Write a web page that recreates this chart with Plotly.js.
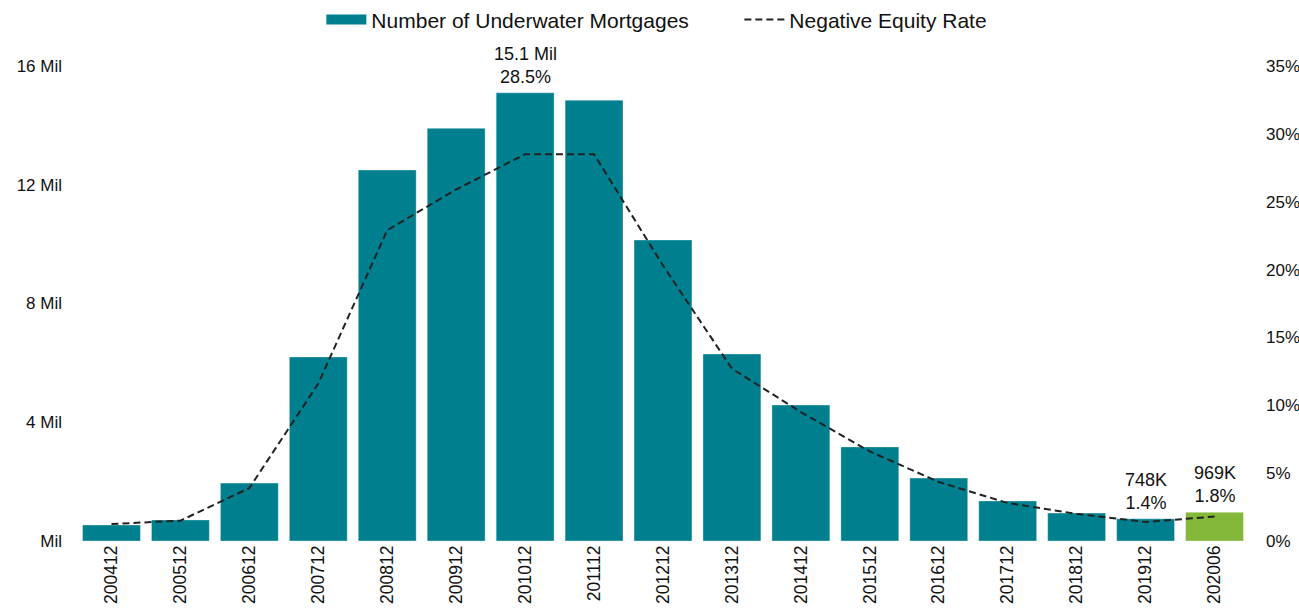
<!DOCTYPE html>
<html>
<head>
<meta charset="utf-8">
<script src="https://cdn.plot.ly/plotly-3.0.1.min.js"></script>
<style>html,body{margin:0;padding:0;background:#fff;}#chart{width:1299px;height:615px;}</style>
</head>
<body>
<div id="chart"></div>
<script>
const periods = ["200412","200512","200612","200712","200812","200912","201012","201112","201212","201312","201412","201512","201612","201712","201812","201912","202006"];
const underwaterMil = [0.54,0.71,1.95,6.2,12.5,13.9,15.1,14.85,10.14,6.3,4.58,3.17,2.12,1.35,0.94,0.748,0.969];
const negEquityRate = [1.25,1.5,3.9,11.6,22.9,25.9,28.5,28.5,20.3,12.7,9.5,6.6,4.35,2.8,2.0,1.4,1.8];
const leftTickVals = [0,4,8,12,16];
const leftTickText = ["Mil","4 Mil","8 Mil","12 Mil","16 Mil"];
const rightTickVals = [0,5,10,15,20,25,30,35];
const rightTickText = ["0%","5%","10%","15%","20%","25%","30%","35%"];
const labelPeriods = ["201012","201912","202006"];
const labelTexts = ["15.1 Mil<br>28.5%","748K<br>1.4%","969K<br>1.8%"];

const teal = "#00808F", green = "#84B83A";
const idx = periods.map((p,i)=>i);
const barColors = periods.map((p,i)=> i===periods.length-1 ? green : teal);

const traces = [
  {type:"bar", name:"Number of Underwater Mortgages", x:idx, y:underwaterMil, showlegend:false,
   marker:{color:barColors, line:{color:"rgba(255,255,255,0.35)", width:1}}, hoverinfo:"skip"},
  {type:"scatter", mode:"lines", name:"Number of Underwater Mortgages", x:[null], y:[null],
   line:{color:teal, width:13}, hoverinfo:"skip"},
  {type:"scatter", mode:"lines", name:"Negative Equity Rate", x:idx, y:negEquityRate, yaxis:"y2",
   line:{color:"#222", width:2, dash:"7px,4px"}, hoverinfo:"skip"}
];

const annotations = labelPeriods.map((p,k)=>({
  x:periods.indexOf(p), y:underwaterMil[periods.indexOf(p)], xref:"x", yref:"y", text:labelTexts[k],
  showarrow:false, yanchor:"bottom", yshift:4, font:{size:18, color:"#111"}
}));

const layout = {
  width:1299, height:615,
  margin:{l:77, r:50, t:66, b:74, autoexpand:false},
  paper_bgcolor:"#fff", plot_bgcolor:"#fff",
  font:{family:"Liberation Sans, Arial, sans-serif", color:"#111", size:17},
  bargap:0.16,
  showlegend:true,
  legend:{orientation:"h", x:0.2085, xanchor:"left", y:1.097, yanchor:"middle", font:{size:21},
          itemwidth:40, entrywidth:363, entrywidthmode:"pixels"},
  xaxis:{range:[-0.5, periods.length-0.5], tickvals:idx, ticktext:periods, tickangle:-90, showgrid:false, zeroline:false, showline:false, ticks:"", tickfont:{size:17.5}},
  yaxis:{range:[0,16], tickvals:leftTickVals, ticktext:leftTickText, showgrid:false, zeroline:false, showline:false, ticks:"", ticklabelstandoff:14, tickfont:{size:17}},
  yaxis2:{range:[0,35], overlaying:"y", side:"right", tickvals:rightTickVals, ticktext:rightTickText, showgrid:false, zeroline:false, showline:false, ticks:"", ticklabelstandoff:16, tickfont:{size:17}},
  annotations:annotations
};
Plotly.newPlot("chart", traces, layout, {displayModeBar:false, staticPlot:true});
</script>
</body>
</html>
